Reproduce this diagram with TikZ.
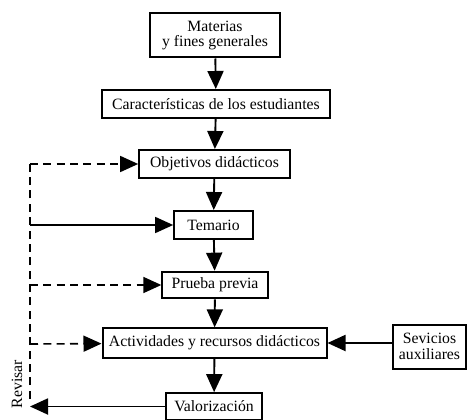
\documentclass[tikz,border=0pt]{standalone}
\usepackage{fontspec}
\setmainfont{Liberation Serif}
\usetikzlibrary{arrows.meta}
\begin{document}
\begin{tikzpicture}[x=0.75pt,y=-0.75pt,
  box/.style={draw,line width=1.5pt,inner sep=1pt,align=center,font=\fontsize{11.8}{11.5}\selectfont},
  tip/.style={-{Triangle[length=13.5pt,width=12pt]}},
  arr/.style={line width=1.4pt,tip},
  dsh/.style={line width=1.2pt,dash pattern=on 6pt off 4pt}]
\useasboundingbox (0,0) rectangle (467,420);
\node[box,minimum width=97pt,minimum height=33pt] (mat) at (215,35.5) {Materias\\y fines generales};
\node[box,minimum width=171pt,minimum height=21pt] (car) at (216,104) {Características de los estudiantes};
\node[box,minimum width=113pt,minimum height=21pt] (obj) at (214.5,164) {Objetivos didácticos};
\node[box,minimum width=59pt,minimum height=21pt] (tem) at (213.5,225) {Temario};
\node[box,minimum width=79pt,minimum height=20pt] (pru) at (215,285) {Prueba previa};
\node[box,minimum width=168pt,minimum height=22pt] (act) at (214.5,343) {Actividades y recursos didácticos};
\node[box,minimum width=55pt,minimum height=33pt] (ser) at (429.5,346.5) {Sevicios\\auxiliares};
\node[box,minimum width=72pt,minimum height=20pt] (val) at (214,406.5) {Valorización};
\coordinate (lo) at (30,164);
\coordinate (lt) at (30,225);
\coordinate (lp) at (30,285);
\coordinate (la) at (30,344);
\coordinate (lb) at (30,406.5);
\draw[arr] (mat) -- (car);
\draw[arr] (car) -- (obj);
\draw[arr] (obj) -- (tem);
\draw[arr] (tem) -- (pru);
\draw[arr] (pru) -- (act);
\draw[arr] (act) -- (val);
\draw[arr] (ser.west |- act.east) -- (act.east);
\draw[arr] (val) -- (lb);
\draw[dsh] ([yshift=6pt]lb) -- (lo);
\draw[dsh,tip] (lo) -- (obj);
\draw[line width=1.2pt,tip] (lt) -- (tem);
\draw[dsh,tip] (lp) -- (pru);
\draw[dsh,tip] (la) -- (act);
\node[inner sep=0pt,font=\fontsize{11.8}{11.8}\selectfont] (rev) at (17,384) {\rotatebox{90}{Revisar}};
\end{tikzpicture}
\end{document}
